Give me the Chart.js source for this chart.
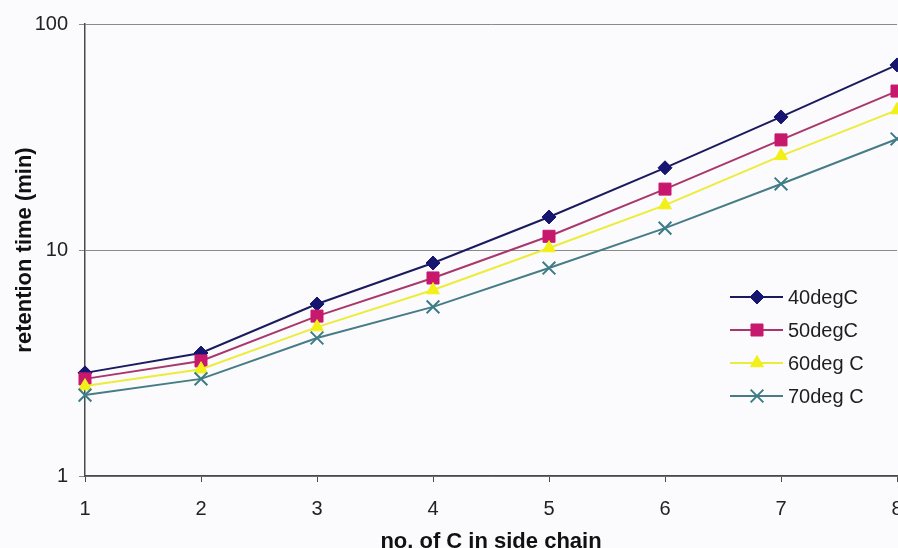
<!DOCTYPE html>
<html>
<head>
<meta charset="utf-8">
<script src="https://cdn.jsdelivr.net/npm/chart.js@4/dist/chart.umd.min.js"></script>
<style>
  html, body { margin: 0; padding: 0; background: #fbfbfd; overflow: hidden; }
</style>
</head>
<body>
<canvas id="retention" width="898" height="548"></canvas>
<script>
// carbon count in side chain
const carbons = ['1', '2', '3', '4', '5', '6', '7', '8'];
// retention time (min) per column temperature
const t40 = [2.86, 3.50, 5.77, 8.76, 14.0, 23.1, 38.8, 65.9];
const t50 = [2.69, 3.23, 5.10, 7.52, 11.5, 18.6, 30.7, 50.5];
const t60 = [2.50, 2.97, 4.56, 6.65, 10.2, 15.8, 26.1, 41.6];
const t70 = [2.28, 2.69, 4.08, 5.60, 8.32, 12.5, 19.6, 31.0];
const seriesNames = ['40degC', '50degC', '60deg C', '70deg C'];
const yTicks = [1, 10, 100];

const font = 'Liberation Sans, Arial, sans-serif';

// legend drawn inside the plot, lower right
const insideLegend = {
  id: 'insideLegend',
  afterDraw(chart) {
    const ctx = chart.ctx;
    ctx.save();
    chart.data.datasets.forEach((ds, i) => {
      const y = 297 + i * 33;
      ctx.strokeStyle = ds.borderColor;
      ctx.lineWidth = 2;
      ctx.beginPath();
      ctx.moveTo(730, y);
      ctx.lineTo(783, y);
      ctx.stroke();
      ctx.fillStyle = ds.pointBackgroundColor;
      ctx.strokeStyle = ds.pointBorderColor;
      ctx.lineWidth = ds.pointBorderWidth;
      Chart.helpers.drawPoint(ctx, {
        pointStyle: ds.pointStyle,
        radius: ds.pointRadius,
        borderWidth: ds.pointBorderWidth
      }, 757, y);
      ctx.fillStyle = '#1e1e1e';
      ctx.font = '20px ' + font;
      ctx.textBaseline = 'middle';
      ctx.fillText(ds.label, 788, y + 1);
    });
    ctx.restore();
  }
};

const styles = [
  { line: '#1a1a5e', fill: '#161670', point: 'rectRot', r: 7, bw: 1 },
  { line: '#a8386c', fill: '#c8186e', point: 'rect', r: 8.5, bw: 1 },
  { line: '#ecec3a', fill: '#f2f018', point: 'triangle', r: 7.5, bw: 1 },
  { line: '#467c86', fill: '#3c7c88', point: 'crossRot', r: 9, bw: 2 }
];

const datasets = [t40, t50, t60, t70].map((vals, i) => ({
  label: seriesNames[i],
  data: vals,
  order: 3 - i,
  borderColor: styles[i].line,
  borderWidth: 2,
  pointStyle: styles[i].point,
  pointRadius: styles[i].r,
  pointBackgroundColor: styles[i].fill,
  pointBorderColor: styles[i].fill,
  pointBorderWidth: styles[i].bw,
  tension: 0,
  clip: false
}));

new Chart(document.getElementById('retention'), {
  type: 'line',
  data: { labels: carbons, datasets: datasets },
  plugins: [insideLegend],
  options: {
    responsive: false,
    animation: false,
    // last column sits on the right edge, its markers and label run off
    layout: { autoPadding: false, padding: { top: 24, right: 1, left: 0, bottom: 0 } },
    plugins: {
      legend: { display: false },
      tooltip: { enabled: false }
    },
    scales: {
      x: {
        type: 'category',
        offset: false,
        afterFit(scale) {
          scale.height = 72;
          scale.paddingRight = 0;
        },
        border: { color: '#4a4a4a', width: 1.5 },
        grid: { drawOnChartArea: false, drawTicks: true, tickLength: 6, color: '#4a4a4a' },
        ticks: { color: '#222', font: { family: font, size: 20 }, padding: 15, maxRotation: 0 },
        title: {
          display: true,
          text: 'no. of C in side chain',
          color: '#111',
          font: { family: font, size: 22, weight: 'bold' },
          padding: { top: 0, bottom: -7 }
        }
      },
      y: {
        type: 'logarithmic',
        min: 1,
        max: 100,
        afterFit(scale) { scale.width = 85; },
        afterBuildTicks(scale) { scale.ticks = yTicks.map(v => ({ value: v })); },
        border: { color: '#4a4a4a', width: 1.5 },
        grid: {
          color: '#8a8a8a',
          lineWidth: 1,
          drawTicks: true,
          tickLength: 6
        },
        ticks: {
          color: '#222',
          font: { family: font, size: 20 },
          padding: 11,
          callback: v => String(v)
        },
        title: {
          display: true,
          text: 'retention time (min)',
          color: '#111',
          font: { family: font, size: 22, weight: 'bold' },
          padding: { top: 12, bottom: 0 }
        }
      }
    }
  }
});
</script>
</body>
</html>
